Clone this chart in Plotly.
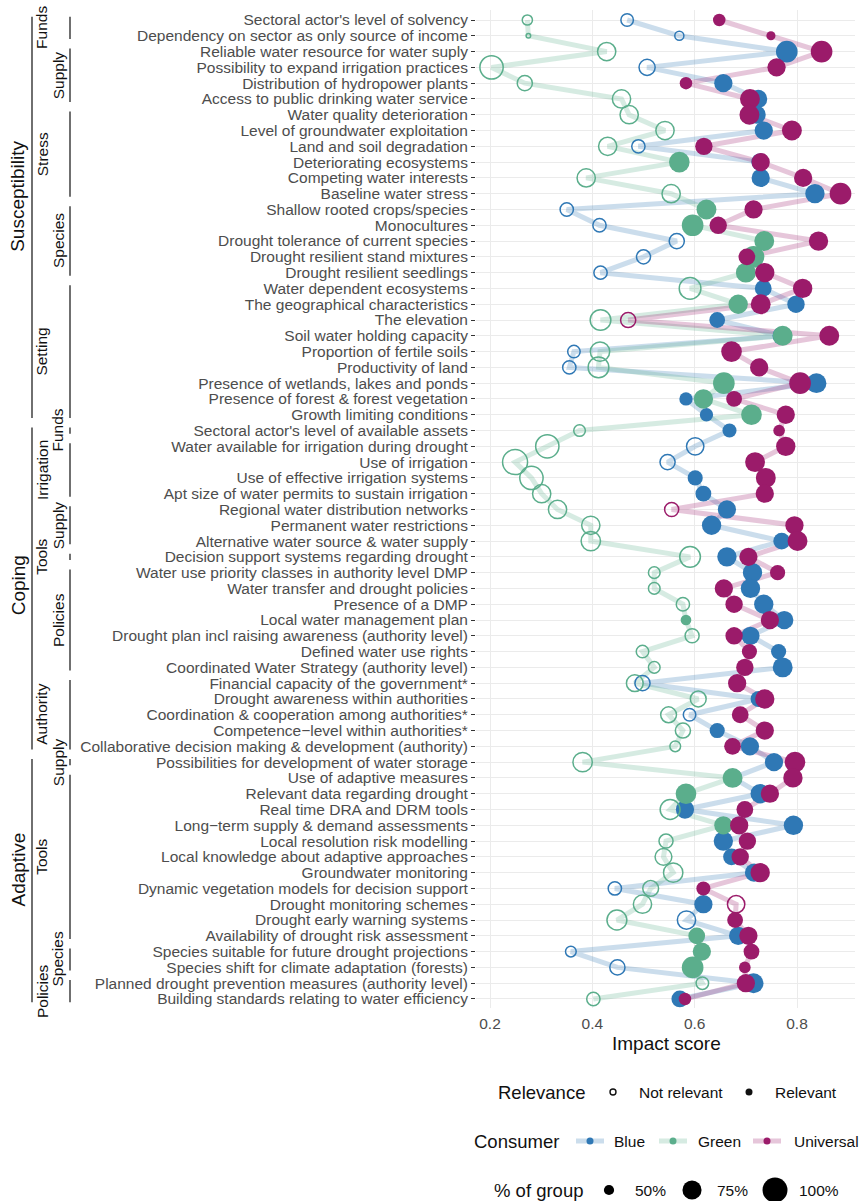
import plotly.graph_objects as go

W, H = 859, 1201

items = [
    "Sectoral actor's level of solvency",
    "Dependency on sector as only source of income",
    "Reliable water resource for water suply",
    "Possibility to expand irrigation practices",
    "Distribution of hydropower plants",
    "Access to public drinking water service",
    "Water quality deterioration",
    "Level of groundwater exploitation",
    "Land and soil degradation",
    "Deteriorating ecosystems",
    "Competing water interests",
    "Baseline water stress",
    "Shallow rooted crops/species",
    "Monocultures",
    "Drought tolerance of current species",
    "Drought resilient stand mixtures",
    "Drought resilient seedlings",
    "Water dependent ecosystems",
    "The geographical characteristics",
    "The elevation",
    "Soil water holding capacity",
    "Proportion of fertile soils",
    "Productivity of land",
    "Presence of wetlands, lakes and ponds",
    "Presence of forest & forest vegetation",
    "Growth limiting conditions",
    "Sectoral actor's level of available assets",
    "Water available for irrigation during drought",
    "Use of irrigation",
    "Use of effective irrigation systems",
    "Apt size of water permits to sustain irrigation",
    "Regional water distribution networks",
    "Permanent water restrictions",
    "Alternative water source & water supply",
    "Decision support systems regarding drought",
    "Water use priority classes in authority level DMP",
    "Water transfer and drought policies",
    "Presence of a DMP",
    "Local water management plan",
    "Drought plan incl raising awareness (authority level)",
    "Defined water use rights",
    "Coordinated Water Strategy (authority level)",
    "Financial capacity of the government*",
    "Drought awareness within authorities",
    "Coordination & cooperation among authorities*",
    "Competence\u2212level within authorities*",
    "Collaborative decision making & development (authority)",
    "Possibilities for development of water storage",
    "Use of adaptive measures",
    "Relevant data regarding drought",
    "Real time DRA and DRM tools",
    "Long\u2212term supply & demand assessments",
    "Local resolution risk modelling",
    "Local knowledge about adaptive approaches",
    "Groundwater monitoring",
    "Dynamic vegetation models for decision support",
    "Drought monitoring schemes",
    "Drought early warning systems",
    "Availability of drought risk assessment",
    "Species suitable for future drought projections",
    "Species shift for climate adaptation (forests)",
    "Planned drought prevention measures (authority level)",
    "Building standards relating to water efficiency",
]

blue_score = [0.468, 0.570, 0.780, 0.507, 0.656, 0.724, 0.721, 0.735, 0.490, 0.728,
              0.729, 0.835, 0.350, 0.414, 0.565, 0.500, 0.416, 0.734, 0.798, 0.644,
              0.770, 0.364, 0.355, 0.838, 0.583, 0.623, 0.668, 0.601, 0.547, 0.601,
              0.617, 0.663, 0.633, 0.770, 0.663, 0.713, 0.709, 0.735, 0.775, 0.709,
              0.764, 0.772, 0.498, 0.725, 0.590, 0.644, 0.708, 0.755, 0.675, 0.728,
              0.581, 0.793, 0.656, 0.672, 0.716, 0.444, 0.617, 0.584, 0.685, 0.358,
              0.449, 0.715, 0.571]
blue_relevant = [0, 0, 1, 0, 1, 1, 1, 1, 0, 1,
                 1, 1, 0, 0, 0, 0, 0, 1, 1, 1,
                 1, 0, 0, 1, 1, 1, 1, 0, 0, 1,
                 1, 1, 1, 1, 1, 1, 1, 1, 1, 1,
                 1, 1, 0, 1, 0, 1, 1, 1, 1, 1,
                 1, 1, 1, 1, 1, 0, 1, 0, 1, 0,
                 0, 1, 1]
blue_pct = [55, 48, 85, 65, 72, 72, 72, 72, 57, 70,
            72, 76, 57, 57, 62, 59, 57, 67, 69, 64,
            72, 55, 57, 78, 57, 57, 59, 69, 62, 62,
            64, 72, 76, 67, 76, 76, 76, 76, 72, 72,
            62, 78, 62, 65, 55, 62, 72, 72, 72, 76,
            72, 76, 76, 67, 72, 57, 72, 72, 72, 51,
            62, 78, 67]

green_score = [0.273, 0.275, 0.428, 0.203, 0.268, 0.457, 0.472, 0.542, 0.430, 0.570,
               0.388, 0.554, 0.623, 0.596, 0.736, 0.715, 0.700, 0.591, 0.685, 0.416,
               0.772, 0.415, 0.412, 0.657, 0.617, 0.711, 0.375, 0.312, 0.249, 0.281,
               0.301, 0.332, 0.397, 0.397, 0.591, 0.521, 0.521, 0.577, 0.583, 0.595,
               0.498, 0.521, 0.483, 0.607, 0.549, 0.577, 0.562, 0.381, 0.674, 0.583,
               0.552, 0.656, 0.544, 0.539, 0.558, 0.514, 0.498, 0.448, 0.604, 0.614,
               0.596, 0.615, 0.402]
green_relevant = [0, 0, 0, 0, 0, 0, 0, 0, 0, 1,
                  0, 0, 1, 1, 1, 1, 1, 0, 1, 0,
                  1, 0, 0, 1, 1, 1, 0, 0, 0, 0,
                  0, 0, 0, 0, 0, 0, 0, 0, 1, 0,
                  0, 0, 0, 0, 0, 0, 0, 0, 1, 1,
                  0, 1, 0, 0, 0, 0, 0, 0, 1, 1,
                  1, 0, 0]
green_pct = [50, 42, 72, 92, 62, 72, 72, 72, 72, 81,
             72, 72, 78, 85, 78, 85, 78, 85, 76, 81,
             78, 76, 81, 85, 76, 81, 53, 92, 100, 92,
             72, 72, 72, 76, 81, 53, 53, 57, 51, 59,
             55, 53, 67, 64, 64, 62, 51, 76, 78, 81,
             78, 72, 59, 67, 76, 64, 72, 78, 67, 72,
             85, 55, 57]

univ_score = [0.648, 0.749, 0.848, 0.760, 0.583, 0.708, 0.707, 0.790, 0.618, 0.729,
              0.812, 0.885, 0.715, 0.646, 0.842, 0.702, 0.737, 0.811, 0.729, 0.470,
              0.863, 0.672, 0.726, 0.806, 0.677, 0.778, 0.765, 0.778, 0.718, 0.739,
              0.737, 0.555, 0.795, 0.801, 0.705, 0.762, 0.657, 0.677, 0.747, 0.677,
              0.707, 0.698, 0.683, 0.737, 0.689, 0.737, 0.674, 0.796, 0.792, 0.747,
              0.698, 0.687, 0.703, 0.689, 0.728, 0.617, 0.681, 0.679, 0.705, 0.711,
              0.698, 0.700, 0.581]
univ_relevant = [1, 1, 1, 1, 1, 1, 1, 1, 1, 1,
                 1, 1, 1, 1, 1, 1, 1, 1, 1, 0,
                 1, 1, 1, 1, 1, 1, 1, 1, 1, 1,
                 1, 0, 1, 1, 1, 1, 1, 1, 1, 1,
                 1, 1, 1, 1, 1, 1, 1, 1, 1, 1,
                 1, 1, 1, 1, 1, 1, 0, 1, 1, 1,
                 1, 1, 1]
univ_pct = [55, 48, 85, 72, 55, 78, 78, 78, 69, 72,
            72, 85, 72, 69, 76, 67, 76, 76, 78, 62,
            78, 81, 72, 85, 64, 72, 53, 76, 78, 78,
            72, 59, 72, 78, 72, 62, 72, 69, 72, 69,
            62, 69, 72, 76, 67, 72, 67, 81, 76, 72,
            67, 72, 69, 69, 76, 59, 69, 64, 72, 64,
            53, 72, 55]

outer_names = ["Susceptibility", "Coping", "Adaptive"]
outer_first = [0, 26, 47]
outer_last = [25, 46, 62]

inner_names = ["Funds", "Supply", "Stress", "Species", "Setting", "Funds", "Irrigation",
               "Supply", "Tools", "Policies", "Authority", "Supply", "Tools", "Species",
               "Policies"]
inner_first = [0, 2, 6, 12, 17, 26, 27, 31, 34, 35, 42, 47, 48, 59, 61]
inner_last = [1, 5, 11, 16, 25, 26, 30, 33, 34, 41, 46, 47, 58, 60, 62]

x_ticks = [0.2, 0.4, 0.6, 0.8]
size_legend = [50, 75, 100]

COL = {"Blue": "#2F78B5", "Green": "#5BAE8C", "Universal": "#9B1B6A"}
LINE = {"Blue": "rgba(47,120,181,0.25)", "Green": "rgba(91,174,140,0.25)",
        "Universal": "rgba(155,27,106,0.25)"}
FONT = "Liberation Sans, Arial, sans-serif"


def diam(p):
    return 25 * max((p - 40) / 60, 0.0) ** 0.5


rows = list(range(len(items)))
series = [("Blue", blue_score, blue_relevant, blue_pct),
          ("Green", green_score, green_relevant, green_pct),
          ("Universal", univ_score, univ_relevant, univ_pct)]

fig = go.Figure()

for name, sc, rel, pc in series:
    fig.add_trace(go.Scatter(x=sc, y=rows, mode="lines",
                             line=dict(color=LINE[name], width=5),
                             hoverinfo="skip", showlegend=False))

for name, sc, rel, pc in series:
    for flag in (0, 1):
        xs = [sc[i] for i in rows if rel[i] == flag]
        ys = [i for i in rows if rel[i] == flag]
        ss = [diam(pc[i]) for i in rows if rel[i] == flag]
        if flag:
            mk = dict(symbol="circle", color=COL[name], size=ss, opacity=1,
                      line=dict(width=0))
        else:
            mk = dict(symbol="circle-open", color=COL[name], size=ss, opacity=1,
                      line=dict(width=1.5, color=COL[name]))
        fig.add_trace(go.Scatter(x=xs, y=ys, mode="markers", marker=mk,
                                 showlegend=False, name=name))

# ---- layout geometry (pixels) ----
px_left, px_right = 476, 855
py_top, py_bottom = 10, 1008
row0_py, row_step = 20, 15.79
x_per_unit = 511.7
x0_val = 0.2 - (490 - px_left) / x_per_unit
x1_val = 0.2 + (px_right - 490) / x_per_unit
y_top_val = (py_top - row0_py) / row_step
y_bot_val = (py_bottom - row0_py) / row_step

shapes = []
annotations = []


def px2paper_x(px):
    return px / W


def px2paper_y(py):
    return (H - py) / H


for k, nm in enumerate(outer_names):
    a, b = outer_first[k], outer_last[k]
    shapes.append(dict(type="line", xref="paper", yref="y", x0=px2paper_x(32), x1=px2paper_x(32),
                       y0=a - 0.2, y1=b + 0.2, line=dict(color="#333333", width=1.4)))
outer_label_rows = [11.2, 35.8, 53.8]
for k, nm in enumerate(outer_names):
    annotations.append(dict(text=nm, xref="paper", yref="y", x=px2paper_x(18),
                            y=outer_label_rows[k], textangle=-90, showarrow=False,
                            xanchor="center", yanchor="middle",
                            font=dict(size=19, color="#111111", family=FONT)))

for k, nm in enumerate(inner_names):
    a, b = inner_first[k], inner_last[k]
    shapes.append(dict(type="line", xref="paper", yref="y", x0=px2paper_x(70), x1=px2paper_x(70),
                       y0=a - 0.2, y1=b + 0.2, line=dict(color="#333333", width=1.4)))
    annotations.append(dict(text=nm, xref="paper", yref="y",
                            x=px2paper_x(42 if k % 2 == 0 else 58),
                            y=(a + b) / 2, textangle=-90, showarrow=False,
                            xanchor="center", yanchor="middle",
                            font=dict(size=15.5, color="#111111", family=FONT)))

# axis title
annotations.append(dict(text="Impact score", xref="paper", yref="paper",
                        x=px2paper_x(666), y=px2paper_y(1043), showarrow=False,
                        xanchor="center", yanchor="middle",
                        font=dict(size=19, color="#111111", family=FONT)))

# ---- manual legend on pixel axes ----
LX, LY = "x2", "y2"


def ltext(txt, x, y, size):
    annotations.append(dict(text=txt, xref=LX, yref=LY, x=x, y=y, showarrow=False,
                            xanchor="left", yanchor="middle",
                            font=dict(size=size, color="#111111", family=FONT)))


ltext("Relevance", 496, 1092, 18.5)
fig.add_trace(go.Scatter(x=[613], y=[1092], xaxis=LX, yaxis=LY, mode="markers",
                         marker=dict(symbol="circle-open", size=6, color="#111111",
                                     line=dict(width=1.4, color="#111111")),
                         showlegend=False, hoverinfo="skip"))
ltext("Not relevant", 637, 1092, 15.5)
fig.add_trace(go.Scatter(x=[749], y=[1092], xaxis=LX, yaxis=LY, mode="markers",
                         marker=dict(symbol="circle", size=7, color="#111111"),
                         showlegend=False, hoverinfo="skip"))
ltext("Relevant", 773, 1092, 15.5)

ltext("Consumer", 472, 1141, 18.5)
cons_x = {"Blue": 590, "Green": 673, "Universal": 767}
cons_lbl = {"Blue": 612, "Green": 696, "Universal": 792}
for name in ["Blue", "Green", "Universal"]:
    cx = cons_x[name]
    fig.add_trace(go.Scatter(x=[cx - 14, cx + 14], y=[1141, 1141], xaxis=LX, yaxis=LY,
                             mode="lines", line=dict(color=LINE[name], width=5),
                             showlegend=False, hoverinfo="skip"))
    fig.add_trace(go.Scatter(x=[cx], y=[1141], xaxis=LX, yaxis=LY, mode="markers",
                             marker=dict(symbol="circle", size=7, color=COL[name]),
                             showlegend=False, hoverinfo="skip"))
    ltext(name, cons_lbl[name], 1141, 15.5)

ltext("% of group", 492, 1190, 18.5)
size_x = [609, 692, 775]
size_lbl = [633, 715, 797]
for k, p in enumerate(size_legend):
    fig.add_trace(go.Scatter(x=[size_x[k]], y=[1190], xaxis=LX, yaxis=LY, mode="markers",
                             marker=dict(symbol="circle", size=diam(p), color="#000000",
                                         opacity=1),
                             showlegend=False, hoverinfo="skip"))
    ltext(f"{p}%", size_lbl[k], 1190, 15.5)

fig.update_layout(
    template="none",
    width=W, height=H,
    margin=dict(l=0, r=0, t=0, b=0, autoexpand=False),
    paper_bgcolor="white", plot_bgcolor="white",
    font=dict(family=FONT, color="#4D4D4D", size=15.5),
    showlegend=False,
    shapes=shapes,
    annotations=annotations,
    xaxis=dict(domain=[px_left / W, px_right / W], range=[x0_val, x1_val],
               tickvals=x_ticks, ticktext=[f"{v:.1f}" for v in x_ticks],
               showgrid=True, gridcolor="#EBEBEB", gridwidth=1.2, zeroline=False,
               showline=False, ticks="", tickfont=dict(size=15.5, color="#4D4D4D"),
               ticklabelstandoff=4, automargin=False, anchor="y"),
    yaxis=dict(domain=[(H - py_bottom) / H, (H - py_top) / H], range=[y_bot_val, y_top_val],
               tickvals=rows, ticktext=items, showgrid=True, gridcolor="#EBEBEB",
               gridwidth=1.2, zeroline=False, showline=False, ticks="outside", ticklen=4,
               tickcolor="#333333", tickwidth=1.2,
               tickfont=dict(size=15.5, color="#4D4D4D"), automargin=False, anchor="x"),
    xaxis2=dict(domain=[0, 1], range=[0, W], visible=False, anchor="y2",
                fixedrange=True),
    yaxis2=dict(domain=[0, (H - 1030) / H], range=[H, 1030], visible=False, anchor="x2",
                fixedrange=True),
)

fig.write_html("out.html")
